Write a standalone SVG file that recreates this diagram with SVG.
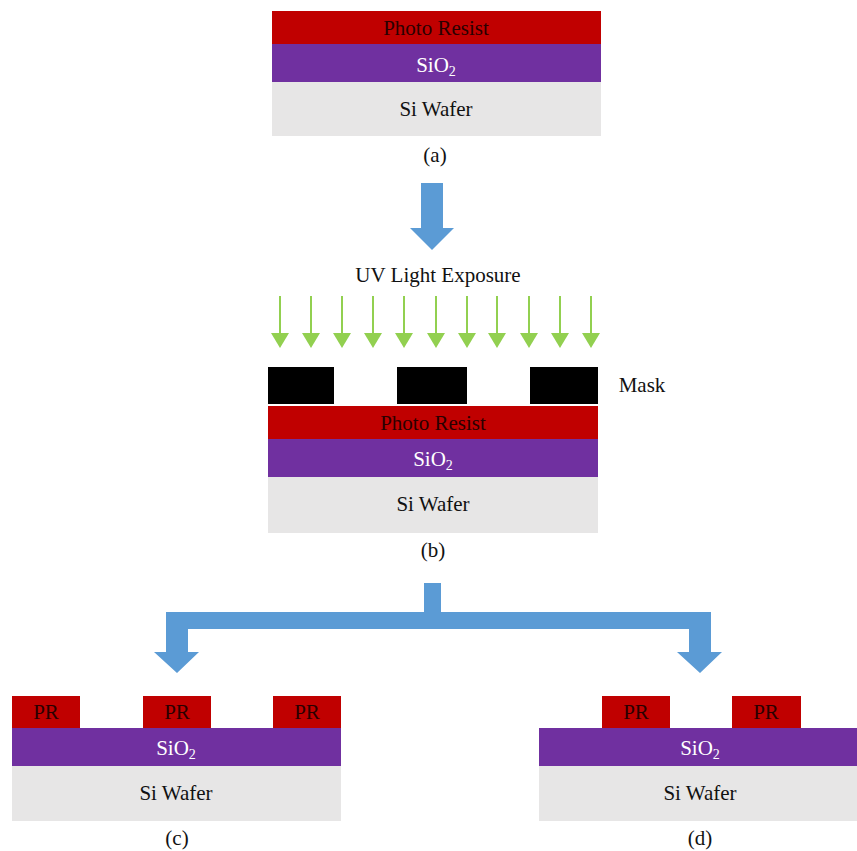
<svg xmlns="http://www.w3.org/2000/svg" xmlns:xlink="http://www.w3.org/1999/xlink" width="857" height="851" viewBox="0 0 857 851">
  <style>
    .pr { fill: #C00000; }
    .ox { fill: #7030A0; }
    .si { fill: #E7E6E6; }
    .mask { fill: #000000; }
    .flow { fill: #5B9BD5; }
    text { font-size: 21px; text-anchor: middle; }
    .t-pr { fill: #2a0000; }
    .t-ox { fill: #ffffff; }
    .t-si { fill: #111111; }
    .sub { font-size: 14px; }
    .uv-shaft { stroke: #92D050; stroke-width: 2; }
    .uv-head { fill: #92D050; }
  </style>
  <defs>
    <g id="uvArrow">
      <line class="uv-shaft" x1="0" y1="296" x2="0" y2="335"/>
      <polygon class="uv-head" points="-9,333 9,333 0,348"/>
    </g>
  </defs>

  <g font-family="'Liberation Serif', 'DejaVu Serif', serif">
  <!-- (a) starting stack -->
  <g id="stack-a">
    <rect class="pr" x="272" y="11" width="329" height="33"/>
    <rect class="ox" x="272" y="44" width="329" height="38"/>
    <rect class="si" x="272" y="82" width="329" height="54"/>
    <text class="t-pr" x="436" y="35">Photo Resist</text>
    <text class="t-ox" x="436" y="72">SiO<tspan class="sub" dy="4">2</tspan></text>
    <text class="t-si" x="436" y="116">Si Wafer</text>
    <text class="t-si" x="435" y="162">(a)</text>
  </g>

  <!-- UV exposure -->
  <g id="uv-exposure">
    <text class="t-si" x="438" y="282">UV Light Exposure</text>
    <use xlink:href="#uvArrow" x="280"/>
    <use xlink:href="#uvArrow" x="311"/>
    <use xlink:href="#uvArrow" x="342"/>
    <use xlink:href="#uvArrow" x="373"/>
    <use xlink:href="#uvArrow" x="404"/>
    <use xlink:href="#uvArrow" x="436"/>
    <use xlink:href="#uvArrow" x="467"/>
    <use xlink:href="#uvArrow" x="497"/>
    <use xlink:href="#uvArrow" x="529"/>
    <use xlink:href="#uvArrow" x="560"/>
    <use xlink:href="#uvArrow" x="591"/>
  </g>

  <!-- (b) masked stack -->
  <g id="stack-b">
    <rect class="mask" x="268" y="367" width="66" height="37"/>
    <rect class="mask" x="397" y="367" width="70" height="37"/>
    <rect class="mask" x="530" y="367" width="68" height="37"/>
    <text class="t-si" x="642" y="392">Mask</text>
    <rect class="pr" x="268" y="406" width="330" height="33"/>
    <rect class="ox" x="268" y="439" width="330" height="38"/>
    <rect class="si" x="268" y="477" width="330" height="56"/>
    <text class="t-pr" x="433" y="430">Photo Resist</text>
    <text class="t-ox" x="433" y="466">SiO<tspan class="sub" dy="4">2</tspan></text>
    <text class="t-si" x="433" y="511">Si Wafer</text>
    <text class="t-si" x="433" y="557">(b)</text>
  </g>

  <!-- (c) result, three PR islands -->
  <g id="stack-c">
    <rect class="pr" x="12" y="696" width="68" height="32"/>
    <rect class="pr" x="143" y="696" width="68" height="32"/>
    <rect class="pr" x="273" y="696" width="68" height="32"/>
    <rect class="ox" x="12" y="728" width="329" height="38"/>
    <rect class="si" x="12" y="766" width="329" height="55"/>
    <text class="t-pr" x="46" y="719">PR</text>
    <text class="t-pr" x="177" y="719">PR</text>
    <text class="t-pr" x="307" y="719">PR</text>
    <text class="t-ox" x="176" y="755">SiO<tspan class="sub" dy="4">2</tspan></text>
    <text class="t-si" x="176" y="800">Si Wafer</text>
    <text class="t-si" x="177" y="845">(c)</text>
  </g>

  <!-- (d) result, two PR islands -->
  <g id="stack-d">
    <rect class="pr" x="602" y="696" width="68" height="32"/>
    <rect class="pr" x="732" y="696" width="69" height="32"/>
    <rect class="ox" x="539" y="728" width="322" height="38"/>
    <rect class="si" x="539" y="766" width="322" height="55"/>
    <text class="t-pr" x="636" y="719">PR</text>
    <text class="t-pr" x="766" y="719">PR</text>
    <text class="t-ox" x="700" y="755">SiO<tspan class="sub" dy="4">2</tspan></text>
    <text class="t-si" x="700" y="800">Si Wafer</text>
    <text class="t-si" x="700" y="845">(d)</text>
  </g>
  </g>

  <!-- process flow arrows -->
  <g id="connectors">
    <polygon class="flow" points="421,183 443,183 443,228 454,228 432,250 410,228 421,228"/>
    <polygon class="flow" points="424,583 441,583 441,612 711,612 711,652 722,652 700,673 677,652 689,652 689,629 188,629 188,652 199,652 177,673 154,652 166,652 166,612 424,612"/>
  </g>
</svg>
